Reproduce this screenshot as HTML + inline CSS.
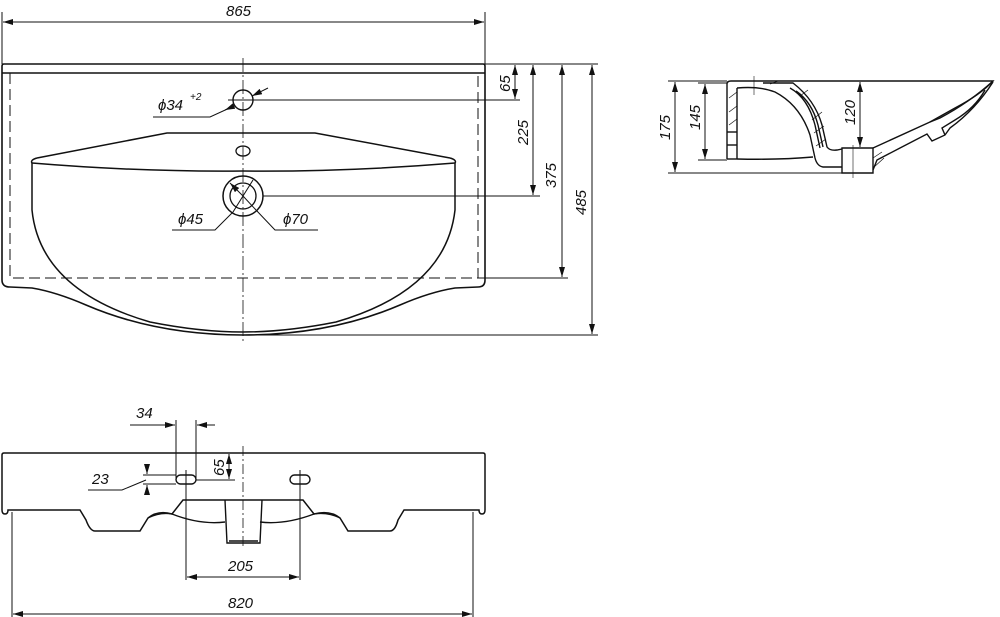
<!DOCTYPE html>
<html><head><meta charset="utf-8"><style>
html,body{margin:0;padding:0;background:#fff}
svg{display:block}
text{font-family:"Liberation Sans",sans-serif;font-style:italic;font-size:15px;fill:#111}
</style></head><body>
<svg width="1000" height="617" viewBox="0 0 1000 617" xmlns="http://www.w3.org/2000/svg">
<defs>
<marker id="a" viewBox="0 0 10 6" refX="10" refY="3" markerWidth="10" markerHeight="6" orient="auto-start-reverse" markerUnits="userSpaceOnUse"><path d="M0,0L10,3L0,6z" fill="#111"/></marker>
</defs>
<g fill="none" stroke="#111" stroke-width="1">
<!-- TOP VIEW -->
<line x1="2" y1="12" x2="2" y2="64"/><line x1="485" y1="12" x2="485" y2="64"/>
<line x1="3" y1="22" x2="484" y2="22" marker-start="url(#a)" marker-end="url(#a)"/>
<path stroke-width="1.6" d="M2,280 L2,66 Q2,64 4,64 L483,64 Q485,64 485,66 L485,280 Q485,287 478,287 L455,288 Q430,292 400,305 Q330,335 243,335 Q156,335 86,305 Q56,292 32,288 L10,287 Q2,287 2,280Z"/>
<line x1="2" y1="73" x2="485" y2="73" stroke-width="1.4"/>
<path stroke-dasharray="11,5" d="M10,73 L10,278 L478,278 L478,73"/>
<line x1="243" y1="58" x2="243" y2="342" stroke-dasharray="14,3,2,3" stroke-width="0.8"/>
<circle cx="243" cy="100" r="10" stroke-width="1.4"/>
<ellipse cx="243" cy="151" rx="7" ry="5" stroke-width="1.3"/>
<circle cx="243" cy="196" r="20" stroke-width="1.5"/>
<circle cx="243" cy="196" r="13" stroke-width="1.3"/>
<path stroke-width="1.5" d="M37,158 L167,133 L315,133 L450,158"/>
<path stroke-width="1.5" d="M32,163 Q140,172 243,171 Q346,172 455,163"/>
<path stroke-width="1.5" d="M32,163 Q30,160 37,158 M455,163 Q457,160 450,158"/>
<path stroke-width="1.5" d="M32,163 L32,210 Q40,290 150,322 Q200,332 243,332 Q286,332 336,322 Q446,290 455,210 L455,163"/>
<line x1="228" y1="100" x2="520" y2="100"/>
<line x1="263" y1="196" x2="540" y2="196"/>
<line x1="478" y1="278" x2="568" y2="278"/>
<line x1="243" y1="335" x2="598" y2="335"/>
<line x1="485" y1="64" x2="598" y2="64"/>
<line x1="515" y1="65" x2="515" y2="99" marker-start="url(#a)" marker-end="url(#a)"/>
<line x1="533" y1="65" x2="533" y2="195" marker-start="url(#a)" marker-end="url(#a)"/>
<line x1="562" y1="65" x2="562" y2="277" marker-start="url(#a)" marker-end="url(#a)"/>
<line x1="592" y1="65" x2="592" y2="334" marker-start="url(#a)" marker-end="url(#a)"/>
<!-- leaders -->
<polyline points="153,117 210,117 234,106"/><line x1="234" y1="106" x2="225" y2="110" marker-end="url(#a)"/>
<line x1="268" y1="88" x2="252" y2="96" marker-end="url(#a)"/>
<polyline points="172,230 215,230 233,212"/><line x1="233" y1="212" x2="253" y2="180"/>
<line x1="230" y1="183" x2="243" y2="196" marker-start="url(#a)"/>
<polyline points="318,230 275,230 256,210"/><line x1="256" y1="210" x2="243" y2="196"/>
<!-- SIDE VIEW -->
<line x1="668" y1="81" x2="727" y2="81"/><line x1="668" y1="173" x2="842" y2="173"/>
<line x1="698" y1="83" x2="727" y2="83"/><line x1="698" y1="160" x2="727" y2="160"/>
<line x1="675" y1="82" x2="675" y2="172" marker-start="url(#a)" marker-end="url(#a)"/>
<line x1="705" y1="84" x2="705" y2="159" marker-start="url(#a)" marker-end="url(#a)"/>
<line x1="860" y1="82" x2="860" y2="147" marker-start="url(#a)" marker-end="url(#a)"/>
<g stroke-width="1.4">
<path d="M727,159 L727,84 Q727,81 731,81 L993,81 Q980,95 955,108 L930,122"/>
<line x1="737" y1="88" x2="737" y2="159"/><line x1="727" y1="159" x2="737" y2="159"/>
<line x1="727" y1="132" x2="737" y2="132"/><line x1="727" y1="145" x2="737" y2="145"/>
<path d="M737,88 Q760,86 775,92 Q800,105 810,135 L815,158 Q817,166 823,167 L842,167"/>
<path d="M737,159 Q780,160 813,157"/>
<path d="M763,83 L793,83 Q815,100 822,125 L827,147 Q830,151 837,150 L842,149"/>
<path d="M790,88 Q808,98 815,125 L820,148 M796,91 Q812,102 818,125 L823,147"/>
<path d="M842,148 L873,148 L873,173 L842,173 Z"/>
<path d="M873,148 L930,122 L940,118 Q970,102 993,81 M873,170 L877,160 L900,148 L927,134 L932,141 L945,135 L950,128 Q975,110 993,82"/>
<path d="M945,135 L942,128 L955,120 Q975,108 985,90"/>
</g>
<g stroke-width="0.7"><line x1="729" y1="98" x2="737" y2="92"/><line x1="729" y1="112" x2="737" y2="106"/><line x1="729" y1="125" x2="737" y2="119"/><line x1="812" y1="120" x2="822" y2="112"/><line x1="814" y1="133" x2="824" y2="126"/><line x1="816" y1="146" x2="826" y2="139"/><line x1="800" y1="96" x2="808" y2="90"/><line x1="873" y1="158" x2="882" y2="152"/><line x1="873" y1="168" x2="884" y2="158"/><line x1="770" y1="84" x2="778" y2="81"/></g>
<line x1="754" y1="76" x2="754" y2="95" stroke-width="0.6"/><line x1="853" y1="145" x2="853" y2="178" stroke-width="0.6"/>
<!-- BOTTOM VIEW -->
<path stroke-width="1.5" d="M4,453 L483,453 Q485,453 485,455 L485,510 Q485,514 482,514 Q479,514 479,510 L404,510 L398,520 Q395,531 390,531 L348,531 L340,518 Q330,510 314,514 L303,500 L183,500 L172,514 Q158,510 148,518 L140,531 L95,531 Q90,531 86,520 L80,510 L8,510 Q8,514 5,514 Q2,514 2,510 L2,455 Q2,453 4,453Z"/>
<path stroke-width="1.4" d="M172,514 Q200,525 225,522 M260,522 Q285,525 314,514"/>
<path stroke-width="1.4" d="M225,500 L227,543 L260,543 L262,500 M229,541 L258,541"/>
<path stroke-width="1.2" d="M148,518 Q160,512 172,514 M340,518 Q328,512 314,514"/>
<rect x="176" y="475" width="20" height="9" rx="4.5" stroke-width="1.4"/>
<rect x="290" y="475" width="20" height="9" rx="4.5" stroke-width="1.4"/>
<line x1="243" y1="446" x2="243" y2="548" stroke-dasharray="10,3,2,3" stroke-width="0.8"/>
<line x1="186" y1="470" x2="186" y2="580"/><line x1="300" y1="470" x2="300" y2="580"/>
<line x1="176" y1="420" x2="176" y2="480"/><line x1="196" y1="420" x2="196" y2="480"/>
<line x1="130" y1="425" x2="175" y2="425" marker-end="url(#a)"/><line x1="215" y1="425" x2="197" y2="425" marker-end="url(#a)"/>
<line x1="143" y1="475" x2="176" y2="475"/><line x1="143" y1="484" x2="176" y2="484"/>
<line x1="147" y1="468" x2="147" y2="474" marker-end="url(#a)"/><line x1="147" y1="491" x2="147" y2="485" marker-end="url(#a)"/>
<polyline points="88,490 122,490 146,480"/>
<line x1="196" y1="480" x2="235" y2="480"/><line x1="220" y1="453" x2="235" y2="453"/>
<line x1="229" y1="454" x2="229" y2="479" marker-start="url(#a)" marker-end="url(#a)"/>
<line x1="187" y1="577" x2="299" y2="577" marker-start="url(#a)" marker-end="url(#a)"/>
<line x1="12" y1="512" x2="12" y2="617"/><line x1="473" y1="512" x2="473" y2="617"/>
<line x1="13" y1="614" x2="472" y2="614" marker-start="url(#a)" marker-end="url(#a)"/>
</g>
<text x="226" y="16">865</text>
<text x="158" y="110">ϕ34</text><text x="190" y="100" style="font-size:10px">+2</text>
<text x="178" y="224">ϕ45</text><text x="283" y="224">ϕ70</text>
<text transform="translate(510,92) rotate(-90)">65</text>
<text transform="translate(528,145) rotate(-90)">225</text>
<text transform="translate(556,188) rotate(-90)">375</text>
<text transform="translate(586,215) rotate(-90)">485</text>
<text transform="translate(670,140) rotate(-90)">175</text>
<text transform="translate(700,130) rotate(-90)">145</text>
<text transform="translate(855,125) rotate(-90)">120</text>
<text x="136" y="418">34</text>
<text x="92" y="484">23</text>
<text transform="translate(224,476) rotate(-90)">65</text>
<text x="228" y="571">205</text>
<text x="228" y="608">820</text>
</svg>
</body></html>
